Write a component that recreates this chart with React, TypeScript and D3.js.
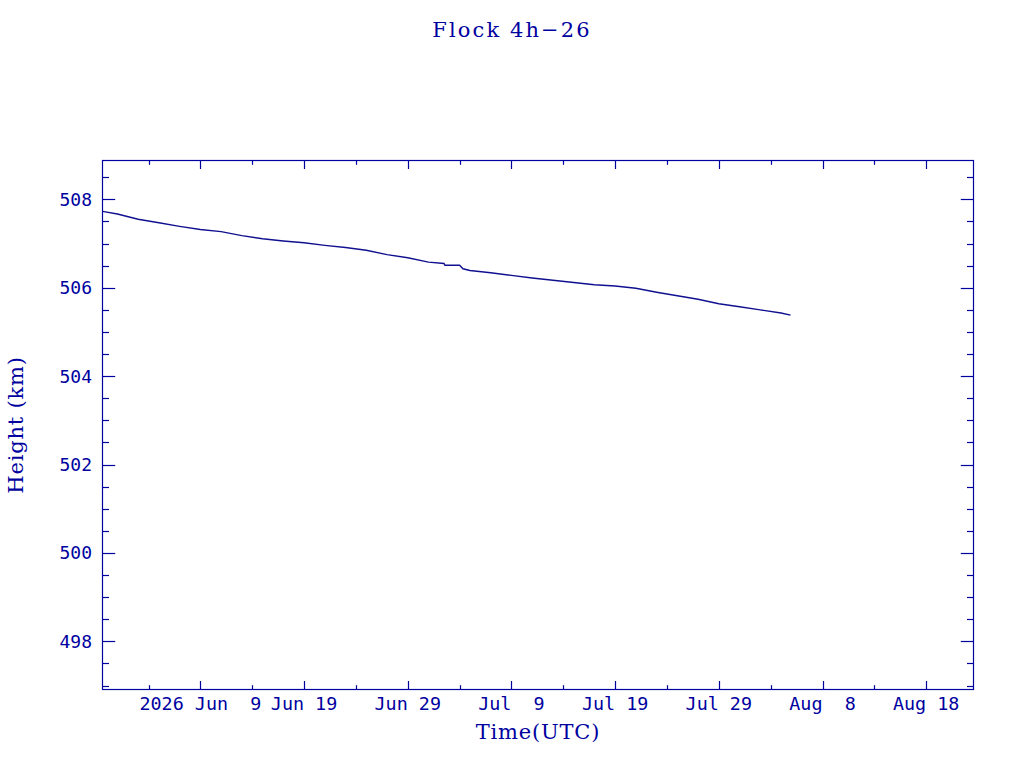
import { useEffect, useRef } from "react";
import * as d3 from "d3";

// height of the satellite
const dates = [
  "2026-05-30T13:30Z", "2026-06-01T00:00Z", "2026-06-03T00:00Z", "2026-06-05T00:00Z",
  "2026-06-07T00:00Z", "2026-06-09T00:00Z", "2026-06-11T00:00Z", "2026-06-13T00:00Z",
  "2026-06-15T00:00Z", "2026-06-17T00:00Z", "2026-06-19T00:00Z", "2026-06-21T00:00Z",
  "2026-06-23T00:00Z", "2026-06-25T00:00Z", "2026-06-27T00:00Z", "2026-06-29T00:00Z",
  "2026-07-01T00:00Z", "2026-07-02T12:00Z", "2026-07-02T14:00Z", "2026-07-04T00:00Z",
  "2026-07-04T08:00Z", "2026-07-05T00:00Z", "2026-07-07T00:00Z", "2026-07-09T00:00Z",
  "2026-07-11T00:00Z", "2026-07-13T00:00Z", "2026-07-15T00:00Z", "2026-07-17T00:00Z",
  "2026-07-19T00:00Z", "2026-07-21T00:00Z", "2026-07-23T00:00Z", "2026-07-25T00:00Z",
  "2026-07-27T00:00Z", "2026-07-29T00:00Z", "2026-07-31T00:00Z", "2026-08-02T00:00Z",
  "2026-08-04T00:00Z", "2026-08-04T22:00Z",
];
const heights = [
  507.73, 507.67, 507.55, 507.47,
  507.39, 507.32, 507.27, 507.18,
  507.11, 507.06, 507.02, 506.96,
  506.91, 506.85, 506.75, 506.68,
  506.58, 506.55, 506.51, 506.51,
  506.43, 506.39, 506.34, 506.28,
  506.22, 506.17, 506.12, 506.07,
  506.04, 505.99, 505.90, 505.82,
  505.74, 505.64, 505.57, 505.50,
  505.43, 505.38,
];

const xMajorTicks = [
  "2026-06-09", "2026-06-19", "2026-06-29", "2026-07-09",
  "2026-07-19", "2026-07-29", "2026-08-08", "2026-08-18",
];
const xTickLabels = [
  "2026 Jun  9", "Jun 19", "Jun 29", "Jul  9",
  "Jul 19", "Jul 29", "Aug  8", "Aug 18",
];
const yMajorTicks = [498, 500, 502, 504, 506, 508];

const COLOR = "#0000a0";
const LINE = "#101090";
const MONO = "'DejaVu Sans Mono', monospace";
const SERIF = "'DejaVu Serif', serif";

export default function App() {
  const svgRef = useRef<SVGSVGElement>(null);

  useEffect(() => {
    if (!svgRef.current) return;
    const svg = d3.select(svgRef.current);
    svg.selectAll("*").remove();

    const left = 102.5, right = 973.5, top = 160.5, bottom = 689.5;

    const x = d3.scaleUtc()
      .domain([new Date("2026-05-30T13:30Z"), new Date("2026-08-22T13:30Z")])
      .range([left, right]);
    const y = d3.scaleLinear().domain([496.91, 508.88]).range([bottom, top]);

    svg.append("rect").attr("width", 1024).attr("height", 768).attr("fill", "#fff");

    // frame
    svg.append("rect")
      .attr("x", left).attr("y", top)
      .attr("width", right - left).attr("height", bottom - top)
      .attr("fill", "none").attr("stroke", COLOR).attr("stroke-width", 1.2);

    const ticks = svg.append("g").attr("stroke", COLOR).attr("stroke-width", 1.2);

    // x ticks, major every 10 days, minor every 5
    const majors = xMajorTicks.map((s) => new Date(s + "T00:00Z"));
    const minors = [d3.utcDay.offset(majors[0], -5), ...majors.map((d) => d3.utcDay.offset(d, 5))]
      .filter((d) => x(d) > left && x(d) < right);
    const xt = (d: Date, len: number) => {
      const px = Math.round(x(d)) + 0.5;
      ticks.append("line").attr("x1", px).attr("x2", px).attr("y1", bottom).attr("y2", bottom - len);
      ticks.append("line").attr("x1", px).attr("x2", px).attr("y1", top).attr("y2", top + len);
    };
    majors.forEach((d) => xt(d, 8.5));
    minors.forEach((d) => xt(d, 4.3));

    // y ticks, major every 2 km, minor every 0.5
    const yMinors = d3.range(497, 508.9, 0.5).filter((v) => !yMajorTicks.includes(v));
    const yt = (v: number, len: number) => {
      const py = Math.round(y(v)) + 0.5;
      ticks.append("line").attr("x1", left).attr("x2", left + len).attr("y1", py).attr("y2", py);
      ticks.append("line").attr("x1", right).attr("x2", right - len).attr("y1", py).attr("y2", py);
    };
    yMajorTicks.forEach((v) => yt(v, 12.7));
    yMinors.forEach((v) => yt(v, 6.5));

    // tick labels
    svg.append("g").selectAll("text")
      .data(majors)
      .enter()
      .append("text")
      .attr("x", (d) => x(d))
      .attr("y", 710)
      .attr("text-anchor", "middle")
      .attr("fill", COLOR)
      .attr("font-family", MONO)
      .attr("font-size", "18.4px")
      .style("white-space", "pre")
      .text((_, i) => xTickLabels[i]);

    svg.append("g").selectAll("text")
      .data(yMajorTicks)
      .enter()
      .append("text")
      .attr("x", 92)
      .attr("y", (d) => y(d) + 6.5)
      .attr("text-anchor", "end")
      .attr("fill", COLOR)
      .attr("font-family", MONO)
      .attr("font-size", "18px")
      .text((d) => d);

    // titles
    svg.append("text").attr("x", 512).attr("y", 37).attr("text-anchor", "middle")
      .attr("fill", COLOR).attr("font-family", SERIF).attr("font-size", "21px")
      .attr("letter-spacing", "2.1px")
      .text("Flock 4h\u221226");
    svg.append("text").attr("x", 538).attr("y", 739).attr("text-anchor", "middle")
      .attr("fill", COLOR).attr("font-family", SERIF).attr("font-size", "21px")
      .attr("letter-spacing", "0.8px")
      .text("Time(UTC)");
    svg.append("text").attr("transform", "translate(23,425) rotate(-90)")
      .attr("text-anchor", "middle")
      .attr("fill", COLOR).attr("font-family", SERIF).attr("font-size", "21px")
      .attr("letter-spacing", "0.8px")
      .text("Height (km)");

    // height curve
    const pts = dates.map((d, i) => ({ t: new Date(d), h: heights[i] }));
    const line = d3.line<{ t: Date; h: number }>()
      .x((d) => x(d.t))
      .y((d) => y(d.h));
    svg.append("path")
      .datum(pts)
      .attr("d", line)
      .attr("fill", "none")
      .attr("stroke", LINE)
      .attr("stroke-width", 1.4);
  }, []);

  return (
    <svg
      ref={svgRef}
      width={1024}
      height={768}
      style={{ position: "absolute", left: 0, top: 0, display: "block" }}
    />
  );
}
